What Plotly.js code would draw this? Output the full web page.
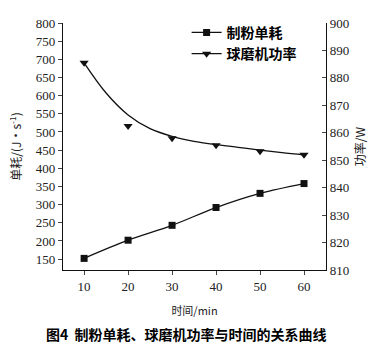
<!DOCTYPE html>
<html><head><meta charset="utf-8">
<script src="https://cdn.plot.ly/plotly-3.0.1.min.js"></script>
<style>html,body{margin:0;padding:0;background:#fff;}#chart{width:382px;height:351px;}</style>
</head><body><div id="chart"></div>
<script>
// Data
const time = [10, 20, 30, 40, 50, 60];
const unitConsumption = [152, 202, 243, 292, 331, 358];      // 制粉单耗, J·s^-1 (left axis)
const millPower = [885.5, 862.5, 858, 855.5, 853.3, 852];     // 球磨机功率, W (right axis)
// Fitted curve drawn through the power points
const fitTime = [10, 15, 20, 25, 30, 35, 40, 45, 50, 55, 60];
const fitPower = [885.5, 874.5, 866.5, 861.5, 858.7, 856.9, 855.7, 854.7, 853.7, 852.8, 852];
const xTicks = [10, 20, 30, 40, 50, 60];
const leftTicks = [150, 200, 250, 300, 350, 400, 450, 500, 550, 600, 650, 700, 750, 800];
const rightTicks = [810, 820, 830, 840, 850, 860, 870, 880, 890, 900];

const cjk = '"Noto Sans CJK SC", "Noto Sans", sans-serif';
const serif = '"Liberation Serif", "DejaVu Serif", serif';

const traces = [
  {x: time, y: unitConsumption, name: '制粉单耗', mode: 'lines+markers',
   line: {color: '#111', width: 1.3, shape: 'spline'},
   marker: {symbol: 'square', size: 7, color: '#111'}, yaxis: 'y'},
  {x: fitTime, y: fitPower, mode: 'lines', showlegend: false,
   line: {color: '#111', width: 1.3, shape: 'spline', smoothing: 1}, yaxis: 'y2', hoverinfo: 'skip'},
  {x: time, y: millPower, mode: 'markers', showlegend: false,
   marker: {symbol: 'triangle-down', size: 8, color: '#111'}, yaxis: 'y2'},
  {x: [null], y: [null], name: '球磨机功率', mode: 'lines+markers',
   line: {color: '#111', width: 1.3},
   marker: {symbol: 'triangle-down', size: 8, color: '#111'}, yaxis: 'y2'}
];

const layout = {
  width: 382, height: 351,
  margin: {l: 63, r: 56, t: 23, b: 81},
  paper_bgcolor: '#fff', plot_bgcolor: '#fff',
  showlegend: true,
  legend: {x: 0.47, y: 1.025, xanchor: 'left', yanchor: 'top',
           font: {family: cjk, size: 14, color: '#000', weight: 'bold'},
           bgcolor: 'rgba(0,0,0,0)', tracegroupgap: 0, itemwidth: 30},
  xaxis: {range: [5.2, 65], tickvals: xTicks, ticks: 'outside', ticklen: 4,
          showline: true, linecolor: '#111', linewidth: 1.2, showgrid: false, zeroline: false,
          tickfont: {family: serif, size: 13, color: '#222'},
          title: {text: '时间/min', font: {family: cjk, size: 11, color: '#222'}, standoff: 14}},
  yaxis: {range: [120, 800], tickvals: leftTicks, ticks: 'outside', ticklen: 4,
          showline: true, linecolor: '#111', linewidth: 1.2, showgrid: false, zeroline: false,
          tickfont: {family: serif, size: 13, color: '#222'},
          title: {text: '单耗/(J·s<sup>-1</sup>)', font: {family: cjk, size: 12, color: '#222'}, standoff: 11}},
  yaxis2: {range: [810, 900], tickvals: rightTicks, overlaying: 'y', side: 'right',
           ticks: 'inside', ticklen: 4,
           showline: true, linecolor: '#111', linewidth: 1.2, showgrid: false, zeroline: false,
           tickfont: {family: serif, size: 13, color: '#222'},
           title: {text: '功率/W', font: {family: cjk, size: 12, color: '#222'}, standoff: 8}},
  annotations: [
    {text: '图4  制粉单耗、球磨机功率与时间的关系曲线', xref: 'paper', yref: 'paper',
     x: 0.47, y: -0.258, xanchor: 'center', yanchor: 'middle', showarrow: false,
     font: {family: cjk, size: 14, color: '#000', weight: 'bold'}}
  ]
};

Plotly.newPlot('chart', traces, layout, {displayModeBar: false, staticPlot: true});
</script>
</body></html>
